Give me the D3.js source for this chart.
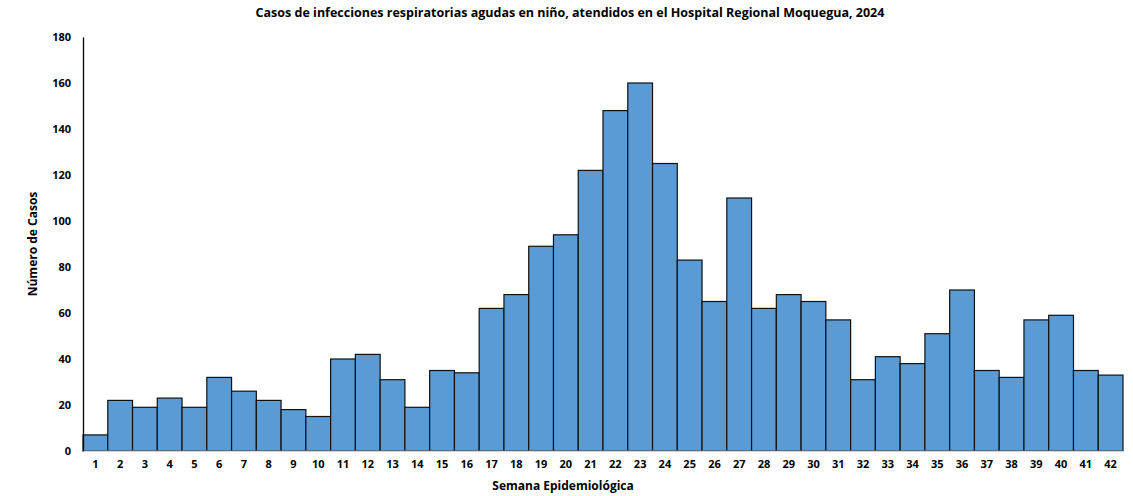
<!DOCTYPE html>
<html><head><meta charset="utf-8">
<script src="https://cdn.jsdelivr.net/npm/d3@7"></script>
<style>body{margin:0;background:#fff}svg{display:block}text{font-family:"Open Sans","DejaVu Sans",sans-serif;font-weight:bold;fill:#000}</style>
</head><body><svg id="c" width="1133" height="496"></svg>
<script>
const weeks = d3.range(1, 43).map(String);
const cases = [7,22,19,23,19,32,26,22,18,15,40,42,31,19,35,34,62,68,89,94,122,148,160,125,83,65,110,62,68,65,57,31,41,38,51,70,35,32,57,59,35,33];
const yTicks = [0,20,40,60,80,100,120,140,160,180];
const title = "Casos de infecciones respiratorias agudas en niño, atendidos en el Hospital Regional Moquegua, 2024";

const svg = d3.select("#c");
const m = {l:83, r:1123, t:37, b:451};
const x = d3.scaleBand().domain(weeks).range([m.l, m.r]).padding(0);
const y = d3.scaleLinear().domain([0,180]).range([m.b, m.t]);

svg.append("text").attr("x",570).attr("y",17).attr("text-anchor","middle").attr("font-size",12.5).text(title);

svg.append("g").selectAll("rect").data(cases).join("rect")
  .attr("x",(d,i)=>x(weeks[i])).attr("y",d=>y(d))
  .attr("width",x.bandwidth()).attr("height",d=>y(0)-y(d))
  .attr("fill","#5B9BD5").attr("stroke","#111").attr("stroke-width",1.2);

const ya = svg.append("g").attr("transform",`translate(${m.l},0)`)
  .call(d3.axisLeft(y).tickValues(yTicks).tickSize(0).tickPadding(12));
ya.select(".domain").attr("stroke","#000").attr("stroke-width",1.3);
ya.selectAll("text").attr("font-size",11).style("font-family",'"Open Sans","DejaVu Sans",sans-serif').style("font-weight","bold");

const xa = svg.append("g").attr("transform",`translate(0,${m.b})`)
  .call(d3.axisBottom(x).tickSize(0).tickPadding(9));
xa.select(".domain").attr("stroke","#d9d9d9").attr("stroke-width",1.5);
xa.selectAll("text").attr("font-size",11).style("font-family",'"Open Sans","DejaVu Sans",sans-serif').style("font-weight","bold");

svg.append("text").attr("x",563).attr("y",490).attr("text-anchor","middle").attr("font-size",12).text("Semana Epidemiológica");
svg.append("text").attr("transform","translate(37,244) rotate(-90)").attr("text-anchor","middle").attr("font-size",12).text("Número de Casos");
</script></body></html>
